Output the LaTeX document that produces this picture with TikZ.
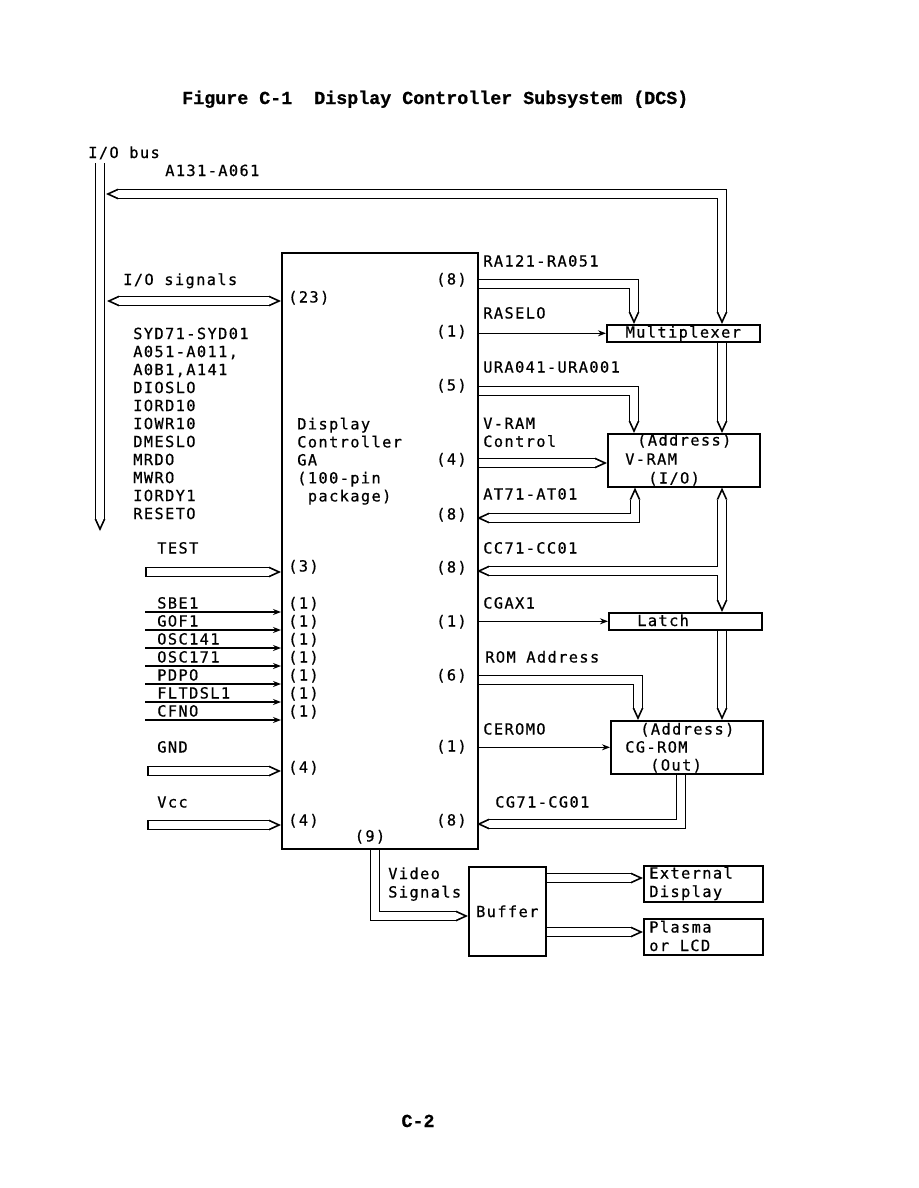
\documentclass[tikz,border=0pt]{standalone}
\usepackage{fontspec}
\usetikzlibrary{arrows.meta, positioning}
\newfontfamily\dcsfont[LetterSpace=9, FakeBold=0.6]{DejaVu Sans Mono}
\newfontfamily\capfont[FakeBold=0.8]{Liberation Mono}
\newcommand{\dcstext}{\dcsfont\fontsize{11.5pt}{13.5pt}\selectfont}
\newcommand{\captext}{\capfont\bfseries\fontsize{13.75pt}{16pt}\selectfont}
\pgfdeclarelayer{wires}
\pgfsetlayers{wires,main}
\tikzset{
  outertip/.tip={Triangle[width=8.2pt, length=9pt, line width=0pt 0 0]},
  innertip/.tip={Triangle[width=5.6pt, length=6.15pt, line width=0pt 0 0]},
}

\begin{document}
\begin{tikzpicture}[
  x=0.75pt, y=-0.75pt,
  every node/.style={font=\dcstext},
  txt/.style={inner sep=0pt, anchor=base west},
  pin/.style={inner sep=0pt, anchor=base east},
  block/.style={draw, fill=white, line width=1.2pt, inner sep=0pt, anchor=north west},
  sig/.style={line width=0.9pt, -{Stealth[length=6pt, width=4.5pt]}},
  busshell/.style={draw=black, line width=8.2pt, shorten <=0pt, shorten >=0pt},
  buscore/.style={draw=white, line width=5.6pt},
  busR/.style={preaction={busshell, -outertip}, buscore, -innertip, shorten >=3.1pt},
  busLR/.style={preaction={busshell, outertip-outertip}, buscore, innertip-innertip,
                shorten >=3.1pt, shorten <=3.1pt},
  busC/.style={preaction={busshell, -outertip}, buscore, -innertip,
               shorten >=3.1pt, shorten <=1.3pt}
]
  % blocks
  \node[block, minimum width=147pt, minimum height=447pt] (dcs) at (281,252) {};
  \node[block, minimum width=114.75pt, minimum height=12.75pt] (mux) at (606,324) {Multiplexer};
  \node[block, minimum width=114pt, minimum height=39.75pt] (vram) at (607,433) {};
  \node[block, minimum width=114.75pt, minimum height=12.75pt] (latch) at (608,612) {};
  \node[block, minimum width=114pt, minimum height=39.75pt] (cgrom) at (610,720) {};
  \node[block, minimum width=57.75pt, minimum height=66.75pt] (buffer) at (468,866) {Buffer};
  \node[block, minimum width=89.25pt, minimum height=27pt] (extdisp) at (643,865) {};
  \node[block, minimum width=89.25pt, minimum height=27pt] (lcd) at (643,918) {};

  % texts
  \node[txt, font=\captext] (title) at (182,104) {Figure C-1\ \ Display Controller Subsystem (DCS)};
  \node[font=\captext, inner sep=0pt, anchor=base] (pageno) at (418,1127) {C-2};
  \node[txt] (iobusL) at (88,158) {I/O bus};
  \node[txt] (addrL) at (165,176) {A131-A061};
  \node[txt] (iosigL) at (123,285) {I/O signals};
  \node[txt, anchor=north west, align=left] (sydL) at (133,327.4)
       {SYD71-SYD01\\A051-A011,\\A0B1,A141\\DIOSLO\\IORD10\\IOWR10\\DMESLO\\MRDO\\MWRO\\IORDY1\\RESETO};
  \node[txt] (testL) at (157,553.5) {TEST};
  \node[txt] (sbeL) at (157,608.5) {SBE1};
  \node[txt] (gofL) at (157,626.5) {GOF1};
  \node[txt] (osc14L) at (157,644.5) {OSC141};
  \node[txt] (osc17L) at (157,662.5) {OSC171};
  \node[txt] (pdpL) at (157,680.5) {PDPO};
  \node[txt] (fltL) at (157,698.5) {FLTDSL1};
  \node[txt] (cfnL) at (157,716.5) {CFNO};
  \node[txt] (gndL) at (157,752.5) {GND};
  \node[txt] (vccL) at (157,807.5) {Vcc};

  \node[txt, anchor=north west, align=left] (dcsL) at (297,417.4)
       {Display\\Controller\\GA\\(100-pin\\~package)};

  % pin counts
  \node[txt] at (288,302.5) {(23)};
  \node[txt] at (288,571.5) {(3)};
  \node[txt] at (288,608.5) {(1)};
  \node[txt] at (288,626.5) {(1)};
  \node[txt] at (288,644.5) {(1)};
  \node[txt] at (288,662.5) {(1)};
  \node[txt] at (288,680.5) {(1)};
  \node[txt] at (288,698.5) {(1)};
  \node[txt] at (288,716.5) {(1)};
  \node[txt] at (288,772.5) {(4)};
  \node[txt] at (288,825.5) {(4)};
  \node[pin] at (467,284.5) {(8)};
  \node[pin] at (467,336.5) {(1)};
  \node[pin] at (467,390.5) {(5)};
  \node[pin] at (467,464.5) {(4)};
  \node[pin] at (467,519.5) {(8)};
  \node[pin] at (467,572.5) {(8)};
  \node[pin] at (467,626.5) {(1)};
  \node[pin] at (467,680.5) {(6)};
  \node[pin] at (467,751.5) {(1)};
  \node[pin] at (467,825.5) {(8)};
  \node[inner sep=0pt, anchor=base] at (370,841.5) {(9)};

  \node[txt] (raL) at (483,266.5) {RA121-RA051};
  \node[txt] (raselL) at (483,318.5) {RASELO};
  \node[txt] (uraL) at (483,372.5) {URA041-URA001};
  \node[txt, anchor=north west, align=left] (ctlL) at (483,417.4) {V-RAM\\Control};
  \node[txt] (atL) at (483,499.5) {AT71-AT01};
  \node[txt] (ccL) at (483,553.5) {CC71-CC01};
  \node[txt] (cgaxL) at (483,608.5) {CGAX1};
  \node[txt] (romL) at (485,662.5) {ROM Address};
  \node[txt] (ceromL) at (483,734.5) {CEROMO};
  \node[txt] (cgL) at (495,807.5) {CG71-CG01};
  \node[txt] (videoL) at (388,879) {Video};
  \node[txt] (signalsL) at (388,897.5) {Signals};

  \node[txt] at (637,445.5) {(Address)};
  \node[txt] at (625,464.5) {V-RAM};
  \node[txt] at (648,483.5) {(I/O)};
  \node[txt] at (637,626) {Latch};
  \node[txt] at (640,734.5) {(Address)};
  \node[txt] at (625,752.5) {CG-ROM};
  \node[txt] at (650,770.5) {(Out)};
  \node[txt] at (649,878.5) {External};
  \node[txt] at (649,897) {Display};
  \node[txt] at (649,932.5) {Plasma};
  \node[txt] at (649,951) {or LCD};

  % bus columns and free ends
  \coordinate (colR) at (722,0);
  \coordinate (colM) at (634,0);
  \coordinate (colA) at (635,0);
  \coordinate (colROM) at (638,0);
  \coordinate (colCG) at (681,0);
  \coordinate (colV) at (375,0);
  \coordinate (ioTop) at (100,163);
  \coordinate (ioBot) at (100,531);
  \coordinate (ioA) at (106,194);
  \coordinate (ioS) at (107,301);
  \coordinate (testIn) at (145,572);
  \coordinate (gndIn) at (147,771);
  \coordinate (vccIn) at (147,825);
  \coordinate (sbeIn) at (145,612);
  \coordinate (gofIn) at (145,630);
  \coordinate (osc14In) at (145,648);
  \coordinate (osc17In) at (145,666);
  \coordinate (pdpIn) at (145,684);
  \coordinate (fltIn) at (145,702);
  \coordinate (cfnIn) at (145,720);
  \coordinate (raOut) at (477,284);
  \coordinate (uraOut) at (477,391);
  \coordinate (ctlOut) at (477,463);
  \coordinate (atIn) at (477,518);
  \coordinate (ccIn) at (477,571);
  \coordinate (ccTap) at (718.2,571);
  \coordinate (romOut) at (477,680);
  \coordinate (cgIn) at (477,824);
  \coordinate (vidIn) at (468,916);
  \coordinate (extIn) at (643,878);
  \coordinate (lcdIn) at (643,932);

  \begin{pgfonlayer}{wires}
    \path[use as bounding box, fill=white] (0,0) rectangle (918,1188);
    % I/O bus side
    \draw[busR] (ioTop) -- (ioBot);
    \draw[busLR] (ioA) -| (mux.north -| colR);
    \draw[busLR] (ioS) -- (ioS -| dcs.west);
    \draw[busC] (testIn) -- (testIn -| dcs.west);
    \draw[sig] (sbeIn) -- (sbeIn -| dcs.west);
    \draw[sig] (gofIn) -- (gofIn -| dcs.west);
    \draw[sig] (osc14In) -- (osc14In -| dcs.west);
    \draw[sig] (osc17In) -- (osc17In -| dcs.west);
    \draw[sig] (pdpIn) -- (pdpIn -| dcs.west);
    \draw[sig] (fltIn) -- (fltIn -| dcs.west);
    \draw[sig] (cfnIn) -- (cfnIn -| dcs.west);
    \draw[busC] (gndIn) -- (gndIn -| dcs.west);
    \draw[busC] (vccIn) -- (vccIn -| dcs.west);
    % memory side
    \draw[busR] (raOut) -| (mux.north -| colM);
    \draw[sig] (dcs.east |- mux.west) -- (mux.west);
    \draw[busR] (uraOut) -| (vram.north -| colM);
    \draw[busR] (mux.south -| colR) -- (vram.north -| colR);
    \draw[busR] (ctlOut) -- (ctlOut -| vram.west);
    \draw[busLR] (vram.south -| colA) |- (atIn);
    \draw[busLR] (vram.south -| colR) -- (latch.north -| colR);
    \draw[busR] (ccTap) -- (ccIn);
    \draw[sig] (dcs.east |- latch.west) -- (latch.west);
    \draw[busR] (romOut) -| (cgrom.north -| colROM);
    \draw[busR] (latch.south -| colR) -- (cgrom.north -| colR);
    \draw[sig] (dcs.east |- cgrom.west) -- (cgrom.west);
    \draw[busR] (cgrom.south -| colCG) |- (cgIn);
    % video output
    \draw[busR] (dcs.south -| colV) |- (vidIn);
    \draw[busR] (extIn -| buffer.east) -- (extIn);
    \draw[busR] (lcdIn -| buffer.east) -- (lcdIn);
  \end{pgfonlayer}
\end{tikzpicture}
\end{document}
